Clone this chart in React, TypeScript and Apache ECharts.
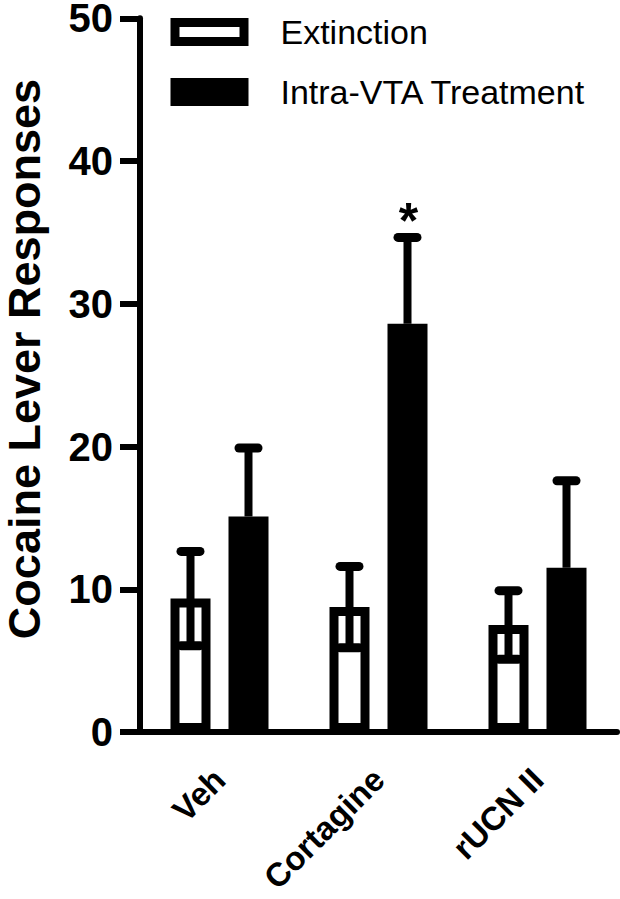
import React, { useEffect, useRef } from "react";
import * as echarts from "echarts";

const categories = ["Veh", "Cortagine", "rUCN II"];
const seriesNames = ["Extinction", "Intra-VTA Treatment"];
const extinctionMean = [9.35, 8.75, 7.5];
const extinctionSem = [3.3, 2.85, 2.4];
const treatmentMean = [15.1, 28.6, 11.5];
const treatmentSem = [4.8, 6.05, 6.1];
const treatmentSignificance = ["", "*", ""];
const yMin = 0;
const yMax = 50;
const yInterval = 10;

const FONT = "'Liberation Sans', Arial, Helvetica, sans-serif";
const BAR_W = 40;
const BAR_GAP_PX = 18;
const OFFSET = (BAR_W + BAR_GAP_PX) / 2;

function makeErrorSeries(
  means: number[],
  sems: number[],
  offset: number,
  bothSides: boolean,
  marks: string[] | null
) {
  return {
    type: "custom",
    z: 5,
    silent: true,
    data: means.map((m, i) => [i, m, sems[i]]),
    encode: { x: 0, y: 1 },
    renderItem: (params: any, api: any) => {
      const idx = api.value(0);
      const mean = api.value(1);
      const sem = api.value(2);
      const top = api.coord([idx, mean + sem]);
      const mid = api.coord([idx, mean]);
      const bot = api.coord([idx, mean - sem]);
      const x = top[0] + offset;
      const lineStyle = { stroke: "#000", lineWidth: 8 };
      const capStyle = { stroke: "#000", lineWidth: 9, lineCap: "round" };
      const children: any[] = [
        {
          type: "line",
          shape: { x1: x, y1: bothSides ? bot[1] : mid[1], x2: x, y2: top[1] },
          style: lineStyle,
        },
        {
          type: "line",
          shape: { x1: x - 9.5, y1: top[1], x2: x + 9.5, y2: top[1] },
          style: capStyle,
        },
      ];
      if (bothSides) {
        children.push({
          type: "line",
          shape: { x1: x - 9.5, y1: bot[1], x2: x + 9.5, y2: bot[1] },
          style: capStyle,
        });
      }
      const mark = marks ? marks[params.dataIndex] : "";
      if (mark) {
        children.push({
          type: "text",
          x: x + 1,
          y: top[1] - 16,
          style: {
            text: mark,
            fontSize: 50,
            fontWeight: "bold",
            fontFamily: FONT,
            fill: "#000",
            align: "center",
            verticalAlign: "middle",
          },
        });
      }
      return { type: "group", children };
    },
  };
}

export default function App() {
  const ref = useRef<HTMLDivElement>(null);
  useEffect(() => {
    if (!ref.current) return;
    const chart = echarts.init(ref.current, null, { renderer: "svg" });
    const option: any = {
      animation: false,
      backgroundColor: "#fff",
      grid: {
        left: 140,
        right: 3,
        top: 18.3,
        bottom: 167,
        containLabel: false,
        outerBoundsMode: "none",
      },
      legend: {
        orient: "vertical",
        left: 170.5,
        top: 15,
        padding: 0,
        itemWidth: 69,
        itemHeight: 19,
        itemGap: 26,
        icon: "rect",
        selectedMode: false,
        textStyle: {
          fontSize: 34,
          fontFamily: FONT,
          color: "#000",
          padding: [0, 0, 0, 31.5],
        },
        data: [
          {
            name: seriesNames[0],
            itemStyle: { color: "#fff", borderColor: "#000", borderWidth: 9 },
          },
          {
            name: seriesNames[1],
            itemStyle: { color: "#000", borderColor: "#000", borderWidth: 9 },
          },
        ],
      },
      xAxis: {
        type: "category",
        data: categories,
        axisLine: { lineStyle: { color: "#000", width: 6 } },
        axisTick: { alignWithLabel: true, length: 21, lineStyle: { color: "#000", width: 6 } },
        axisLabel: {
          interval: 0,
          rotate: 45,
          margin: 42,
          fontSize: 33,
          lineHeight: 22,
          fontWeight: "bold",
          fontFamily: FONT,
          color: "#000",
        },
        splitLine: { show: false },
      },
      yAxis: {
        type: "value",
        min: yMin,
        max: yMax,
        interval: yInterval,
        axisLine: { show: true, lineStyle: { color: "#000", width: 6 } },
        axisTick: { show: true, length: 20, lineStyle: { color: "#000", width: 6 } },
        axisLabel: {
          margin: 27,
          fontSize: 40,
          lineHeight: 32,
          fontWeight: "bold",
          fontFamily: FONT,
          color: "#000",
        },
        splitLine: { show: false },
      },
      graphic: [
        {
          type: "text",
          x: 24,
          y: 359,
          rotation: Math.PI / 2,
          style: {
            text: "Cocaine Lever Responses",
            fontSize: 45,
            fontWeight: "bold",
            fontFamily: FONT,
            fill: "#000",
            align: "center",
            verticalAlign: "middle",
          },
        },
      ],
      series: [
        {
          type: "bar",
          name: seriesNames[0],
          data: extinctionMean,
          barWidth: BAR_W,
          barGap: (BAR_GAP_PX / BAR_W) * 100 + "%",
          itemStyle: { color: "#fff", borderColor: "#000", borderWidth: 9 },
        },
        {
          type: "bar",
          name: seriesNames[1],
          data: treatmentMean,
          barWidth: BAR_W,
          barGap: (BAR_GAP_PX / BAR_W) * 100 + "%",
          itemStyle: { color: "#000", borderColor: "#000", borderWidth: 9 },
        },
        makeErrorSeries(extinctionMean, extinctionSem, -OFFSET, true, null),
        makeErrorSeries(treatmentMean, treatmentSem, OFFSET, false, treatmentSignificance),
      ],
    };
    chart.setOption(option);
    return () => chart.dispose();
  }, []);
  return (
    <div
      ref={ref}
      style={{ position: "absolute", left: 0, top: 0, width: 620, height: 899, background: "#fff" }}
    />
  );
}
